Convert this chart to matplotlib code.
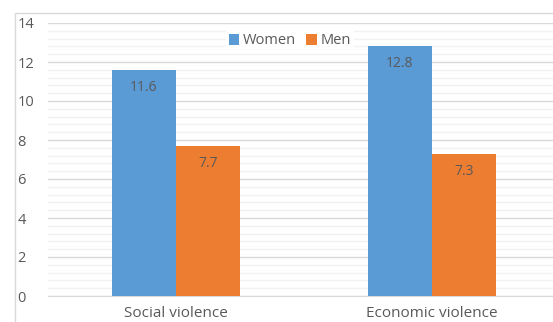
import matplotlib.pyplot as plt
from matplotlib.patches import Rectangle
import numpy as np

categories = ['Social violence', 'Economic violence']
women = [11.6, 12.8]
men = [7.7, 7.3]
series_names = ['Women', 'Men']

blue = '#5b9bd5'
orange = '#ed7d31'
text_grey = '#595959'

plt.rcParams['font.family'] = ['Open Sans', 'DejaVu Sans']

fig = plt.figure(figsize=(5.53, 3.22), dpi=100)
ax = fig.add_axes([48 / 553, 26 / 322, (553 - 48) / 553, 273 / 322])

# outer chart border (cropped on right and bottom)
fig.patches.append(Rectangle((15 / 553, -0.1), 1.2, (322 - 13) / 322 + 0.1,
                             transform=fig.transFigure, fill=False,
                             edgecolor='#d9d9d9', linewidth=1))

x = np.arange(len(categories))
w = 0.25
b1 = ax.bar(x - w / 2, women, w, color=blue, label=series_names[0], zorder=3)
b2 = ax.bar(x + w / 2, men, w, color=orange, label=series_names[1], zorder=3)

for bars in (b1, b2):
    for bar in bars:
        h = bar.get_height()
        ax.text(bar.get_x() + bar.get_width() / 2, h - 0.9, f'{h:.1f}',
                ha='center', va='center', fontsize=10, color=text_grey, zorder=4)

ax.set_xlim(-0.5, 1 + 121 / 256)
ax.set_ylim(0, 14)
ax.set_yticks(np.arange(0, 15, 2))
ax.set_yticks(np.arange(0, 14.01, 0.4), minor=True)
ax.set_xticks(x)
ax.set_xticklabels(categories)
ax.tick_params(axis='both', length=0, colors=text_grey, labelsize=10.5)
ax.tick_params(axis='x', labelsize=11)
ax.tick_params(axis='y', which='minor', length=0)
ax.tick_params(axis='y', pad=22)
ax.tick_params(axis='x', pad=7.5)
for lbl in ax.get_yticklabels():
    lbl.set_horizontalalignment('left')

ax.grid(axis='y', which='major', color='#d9d9d9', linewidth=1, zorder=0)
ax.grid(axis='y', which='minor', color='#f2f2f2', linewidth=1, zorder=0)
for s in ['top', 'right', 'left']:
    ax.spines[s].set_visible(False)
ax.spines['bottom'].set_color('#d9d9d9')

leg = ax.legend(loc='center', bbox_to_anchor=(242 / 505, 1 - 18 / 273), ncol=2,
                frameon=True, fontsize=10.5, handlelength=0.7, handleheight=0.7,
                handletextpad=0.3, columnspacing=0.7, labelcolor=text_grey,
                borderpad=0.2, fancybox=False)
leg.get_frame().set_facecolor('white')
leg.get_frame().set_edgecolor('none')
leg.get_frame().set_alpha(1)
leg.set_zorder(5)

fig.savefig('out.png', dpi=100)
